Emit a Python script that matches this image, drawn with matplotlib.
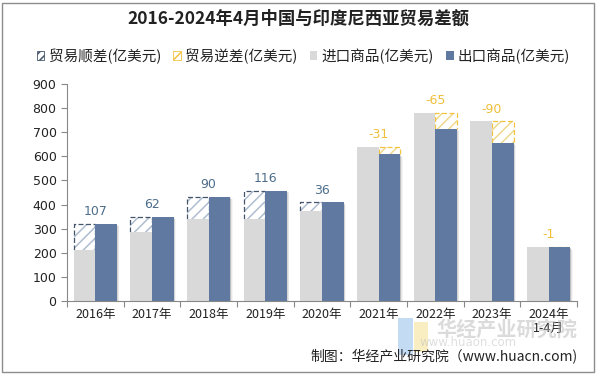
import matplotlib
matplotlib.use("Agg")
import matplotlib.pyplot as plt
from matplotlib.patches import Rectangle, Patch
import numpy as np

plt.rcParams['font.family'] = ['Noto Sans CJK SC', 'DejaVu Sans']
plt.rcParams['hatch.linewidth'] = 1.1

years = ['2016年', '2017年', '2018年', '2019年', '2020年', '2021年', '2022年', '2023年', '2024年\n1-4月']
imports = [213, 287, 342, 342, 374, 639, 780, 745, 224]
exports = [320, 349, 432, 458, 410, 608, 715, 655, 223]
balance = [107, 62, 90, 116, 36, -31, -65, -90, -1]

title = '2016-2024年4月中国与印度尼西亚贸易差额'
source = '制图：华经产业研究院（www.huacn.com)'
legend_labels = ['贸易顺差(亿美元)', '贸易逆差(亿美元)', '进口商品(亿美元)', '出口商品(亿美元)']

c_imp = '#d9d9d9'
c_exp = '#5f79a1'
c_pos_edge = '#44546a'
c_pos_hatch = '#aebdd0'
c_neg_edge = '#f3c340'
c_neg_hatch = '#efd98e'
c_pos_text = '#4d6d8a'
c_neg_text = '#efbf3a'

fig = plt.figure(figsize=(5.97, 3.74), dpi=100)
ax = fig.add_axes([67/597, 1-301/374, 510/597, 217/374])

x = np.arange(len(years))
w = 0.38
xi = x - w/2
xe = x + w/2
imp = np.array(imports, float)
exp_ = np.array(exports, float)
bal = np.array(balance, float)

# balance boxes
for i in range(len(x)):
    if bal[i] >= 0:
        bx, b0, h = xi[i], imp[i], exp_[i] - imp[i]
        hc, ec = c_pos_hatch, c_pos_edge
    else:
        bx, b0, h = xe[i], exp_[i], imp[i] - exp_[i]
        hc, ec = c_neg_hatch, c_neg_edge
    ax.bar(bx, h, w, bottom=b0, facecolor='white', hatch='///', edgecolor=hc, linewidth=0, zorder=1)
    l, r, t = bx - w/2, bx + w/2, b0 + h
    ax.plot([l, l, r, r], [b0, t, t, b0], color=ec, lw=0.9, ls=(0, (4, 2)), zorder=1.5)

ax.bar(xi, imp, w, color=c_imp, zorder=2)
# soft shadow for export bars
for k, a in zip([1, 2, 3, 4], [0.10, 0.08, 0.06, 0.04]):
    dx = k * 0.6 / 56.7
    dy = k * 0.6 / 0.2407
    ax.bar(xe + dx, exp_ - dy, w, color='black', alpha=a, linewidth=0, zorder=2.5)
ax.bar(xe, exp_, w, color=c_exp, zorder=3)

# labels
for i in range(len(x)):
    top = max(imp[i], exp_[i])
    col = c_pos_text if bal[i] >= 0 else c_neg_text
    ax.annotate(f'{balance[i]:g}', (x[i], top), xytext=(0, 4), textcoords='offset points',
                ha='center', va='bottom', fontsize=9, color=col, family=['DejaVu Sans'], zorder=5)

ax.set_ylim(0, 900)
ax.set_xlim(-0.5, len(x) - 0.5)
ax.set_yticks(np.arange(0, 901, 100))
ax.set_xticks(x)
ax.set_xticklabels(years, fontsize=9, color='#222222', linespacing=1.1)
ax.set_xticks(np.arange(-0.5, len(x), 1.0), minor=True)
ax.tick_params(axis='x', which='major', length=0, pad=5)
ax.tick_params(axis='x', which='minor', length=4, color='#888888', width=0.8)
ax.tick_params(axis='y', length=4, color='#888888', width=0.8, labelsize=9, labelcolor='#222222')
for lbl in ax.get_yticklabels():
    lbl.set_family(['DejaVu Sans'])
for s in ['top', 'right']:
    ax.spines[s].set_visible(False)
for s in ['left', 'bottom']:
    ax.spines[s].set_color('#888888')
    ax.spines[s].set_linewidth(0.8)
ax.set_facecolor('none')

# legend
handles = [
    Patch(facecolor='white', edgecolor=c_pos_edge, hatch='////', linewidth=0.6),
    Patch(facecolor='white', edgecolor=c_neg_edge, hatch='////', linewidth=0.6),
    Patch(facecolor=c_imp, edgecolor='none'),
    Patch(facecolor=c_exp, edgecolor='none'),
]
fig.legend(handles, legend_labels, loc='center left', bbox_to_anchor=(37/597, 1-56/374),
           ncol=4, frameon=False, fontsize=10.5, handlelength=0.5, handleheight=0.5,
           handletextpad=0.3, columnspacing=0.85, borderaxespad=0, borderpad=0,
           labelcolor='#222222')

fig.text(0.5, 1-19/374, title, ha='center', va='center', fontsize=12.5, fontweight='bold', color='#222222')

# watermark
fig.patches.append(Rectangle((398/597, 1-355/374), 15/597, 37/374, transform=fig.transFigure,
                             facecolor='#9ec3ee', alpha=0.6, edgecolor='none', zorder=0.5))
fig.patches.append(Rectangle((414/597, 1-352/374), 14/597, 30/374, transform=fig.transFigure,
                             facecolor='#f6e39a', alpha=0.6, edgecolor='none', zorder=0.5))
fig.text(507/597, 1-329/374, '华经产业研究院', ha='center', va='center', fontsize=14.5, fontweight='bold',
         color='#b8b8b8', alpha=0.5)
fig.text(468/597, 1-342/374, 'www.huaon.com', ha='center', va='center', fontsize=8.5,
         color='#b8b8b8', alpha=0.45, family=['DejaVu Sans'])

fig.text(578/597, 1-357/374, source, ha='right', va='center', fontsize=10, color='#222222')

# figure border
fig.patches.append(Rectangle((2/597, 2/374), 592/597, 369/374, transform=fig.transFigure,
                             fill=False, edgecolor='#8c8c8c', linewidth=1.0))

fig.savefig('out.png', dpi=100)
